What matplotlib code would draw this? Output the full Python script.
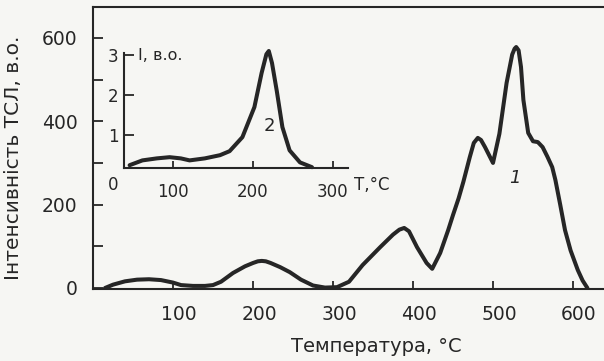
import matplotlib
matplotlib.use("Agg")
import matplotlib.pyplot as plt
from matplotlib.transforms import ScaledTranslation

# main TSL glow curve (curve 1)
temp_main = [15, 25, 40, 55, 70, 85, 100, 110, 125, 140, 150, 160, 175, 190, 200,
             206, 211, 216, 222, 234, 246, 260, 275, 290, 305, 320, 337, 359, 375,
             383, 389, 395, 405, 417, 424, 434, 444, 450, 457, 463, 471, 476, 481,
             485, 490, 500, 508, 517, 524, 527, 529, 532, 535, 538, 544, 550, 556,
             562, 568, 574, 578, 584, 590, 597, 606, 612, 618]
tsl_main = [0, 8, 16, 20, 21, 19, 13, 7, 5, 5, 7, 15, 36, 52, 60,
            64, 65, 64, 60, 50, 38, 20, 6, 1, 2, 15, 55, 98, 128,
            140, 144, 136, 98, 60, 46, 84, 139, 175, 215, 255, 314, 348, 360,
            355, 338, 300, 370, 492, 560, 574, 578, 570, 530, 451, 372, 352, 350,
            338, 315, 290, 259, 200, 139, 90, 43, 18, 0]

# inset curve (curve 2)
temp_inset = [46, 62, 80, 96, 110, 121, 140, 159, 171, 187, 202, 211, 217, 220,
              224, 230, 237, 246, 259, 274]
tsl_inset = [0.25, 0.37, 0.42, 0.45, 0.42, 0.37, 0.42, 0.5, 0.6, 0.95, 1.7, 2.55,
             3.02, 3.1, 2.8, 2.1, 1.2, 0.62, 0.32, 0.2]

main_xticks = [100, 200, 300, 400, 500, 600]
main_yticks = [0, 200, 400, 600]
main_yminor = [100, 300, 500]
inset_xticks = [100, 200, 300]
inset_yticks = [1, 2, 3]

ink = "#262626"
paper = "#f6f6f3"

fig = plt.figure(figsize=(6.04, 3.61), dpi=100, facecolor=paper)
ax = fig.add_axes([93 / 604, 1 - 289.25 / 361, 520 / 604, 282.25 / 361])
ax.set_facecolor(paper)
ax.plot(temp_main, tsl_main, color=ink, lw=2.9, solid_capstyle="round",
        solid_joinstyle="round", clip_on=False)
ax.set_xlim(0, 650)
ax.set_ylim(-3, 674)
ax.set_xticks(main_xticks)
ax.set_yticks(main_yticks)
ax.set_yticks(main_yminor, minor=True)
ax.tick_params(axis="x", direction="in", length=6, width=1.3, pad=11,
               labelsize=13.5, colors=ink)
ax.tick_params(axis="y", which="both", direction="in", length=7, width=1.3,
               pad=11, labelsize=13.5, colors=ink)
# x tick labels sit a little right of their ticks
nudge = ScaledTranslation(6 / 100, 0, fig.dpi_scale_trans)
for lab in ax.get_xticklabels():
    lab.set_transform(lab.get_transform() + nudge)
for side in ax.spines.values():
    side.set_linewidth(1.5)
    side.set_color(ink)
ax.set_xlabel("Температура, °C", fontsize=14, color=ink)
ax.xaxis.set_label_coords(0.544, -0.168)
ax.set_ylabel("Інтенсивність ТСЛ, в.о.", fontsize=14.5, color=ink)
ax.yaxis.set_label_coords(-0.135, 0.465)
ax.text(527, 264, "1", fontsize=13, style="italic", color=ink,
        ha="center", va="center")

ins = fig.add_axes([124 / 604, 1 - 168 / 361, 224 / 604, 115 / 361])
ins.patch.set_alpha(0)
ins.plot(temp_inset, tsl_inset, color=ink, lw=2.9, solid_capstyle="round",
         solid_joinstyle="round", clip_on=False)
ins.set_xlim(39, 319)
ins.set_ylim(0.18, 3.05)
ins.set_xticks(inset_xticks)
ins.set_yticks(inset_yticks)
ins.spines["top"].set_visible(False)
ins.spines["right"].set_visible(False)
for side in ("left", "bottom"):
    ins.spines[side].set_linewidth(1.5)
    ins.spines[side].set_color(ink)
ins.tick_params(axis="x", direction="in", length=5, width=1.3, pad=11,
                labelsize=12, colors=ink)
ins.tick_params(axis="y", direction="in", length=7, width=1.3, pad=4,
                labelsize=12, colors=ink)
ins.text(26, -0.24, "0", fontsize=12, color=ink, ha="center", va="center")
ins.text(327, -0.24, "T,°C", fontsize=12, color=ink, ha="left", va="center")
ins.text(57, 2.98, "I, в.о.", fontsize=11.5, color=ink, ha="left", va="center")
ins.text(221, 1.22, "2", fontsize=13, color=ink, ha="center", va="center")

fig.savefig("out.png", dpi=100, facecolor=paper)
